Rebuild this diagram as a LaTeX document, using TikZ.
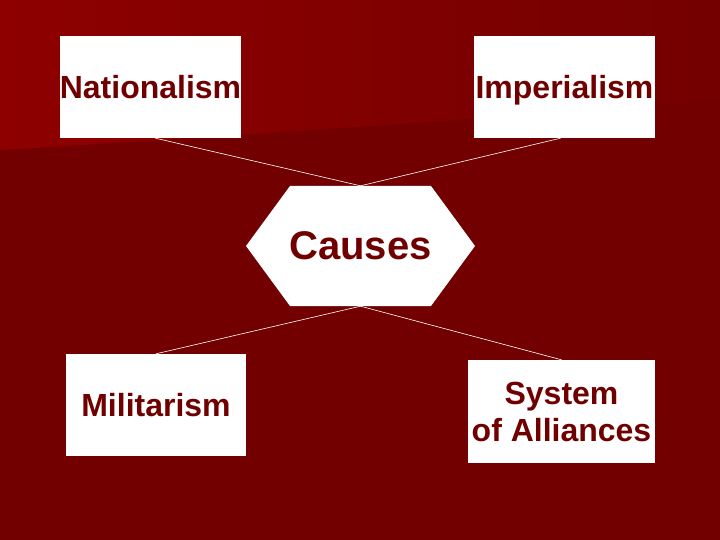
\documentclass[tikz,border=0pt]{standalone}
\usepackage{fontspec}
\setmainfont{Liberation Sans}
\definecolor{bgdark}{HTML}{720000}
\definecolor{bglight}{HTML}{8E0000}
\definecolor{bgmid}{HTML}{7A0000}
\definecolor{bgright}{HTML}{740000}
\definecolor{txtred}{HTML}{700000}
\tikzset{
  box/.style={fill=white, inner sep=0pt, text=txtred, align=center,
    font=\bfseries\fontsize{32}{37}\selectfont},
  link/.style={draw=white, line width=0.6pt},
}
\begin{document}
\begin{tikzpicture}[x=1pt, y=-1pt]
\useasboundingbox (0,0) rectangle (720,540);
% background
\fill[bgdark] (0,0) rectangle (720,540);
\shade[left color=bglight, middle color=bgmid, right color=bgright]
  (0,0) -- (720,0) -- (720,100) .. controls (400,125) and (200,138) .. (0,150) -- cycle;
% hexagon behind Causes
\coordinate (hc) at (360.5,246);
\fill[white] ([xshift=-70.5pt,yshift=60pt]hc) -- ([xshift=70.5pt,yshift=60pt]hc)
  -- ([xshift=114.5pt]hc) -- ([xshift=70.5pt,yshift=-60pt]hc)
  -- ([xshift=-70.5pt,yshift=-60pt]hc) -- ([xshift=-114.5pt]hc) -- cycle;
% nodes
\node[text=txtred, inner sep=0pt, minimum width=141pt, minimum height=120pt,
  font=\bfseries\fontsize{40}{46}\selectfont] (causes) at (hc) {Causes};
\node[box, minimum width=181pt, minimum height=102pt] (nat) at (150.5,87) {Nationalism};
\node[box, minimum width=181pt, minimum height=102pt, text depth=0pt] (imp) at (564.5,87) {Imperialism};
\node[box, minimum width=180pt, minimum height=102pt] (mil) at (156,405) {Militarism};
\node[box, minimum width=187pt, minimum height=103pt] (sys) at (561.5,411.5) {System\\of Alliances};
% connectors
\draw[link] ([xshift=5pt]nat.south) -- (causes.north);
\draw[link] ([xshift=-4pt]imp.south) -- (causes.north);
\draw[link] (causes.south) -- (mil.north);
\draw[link] (causes.south) -- (sys.north);
\end{tikzpicture}
\end{document}
